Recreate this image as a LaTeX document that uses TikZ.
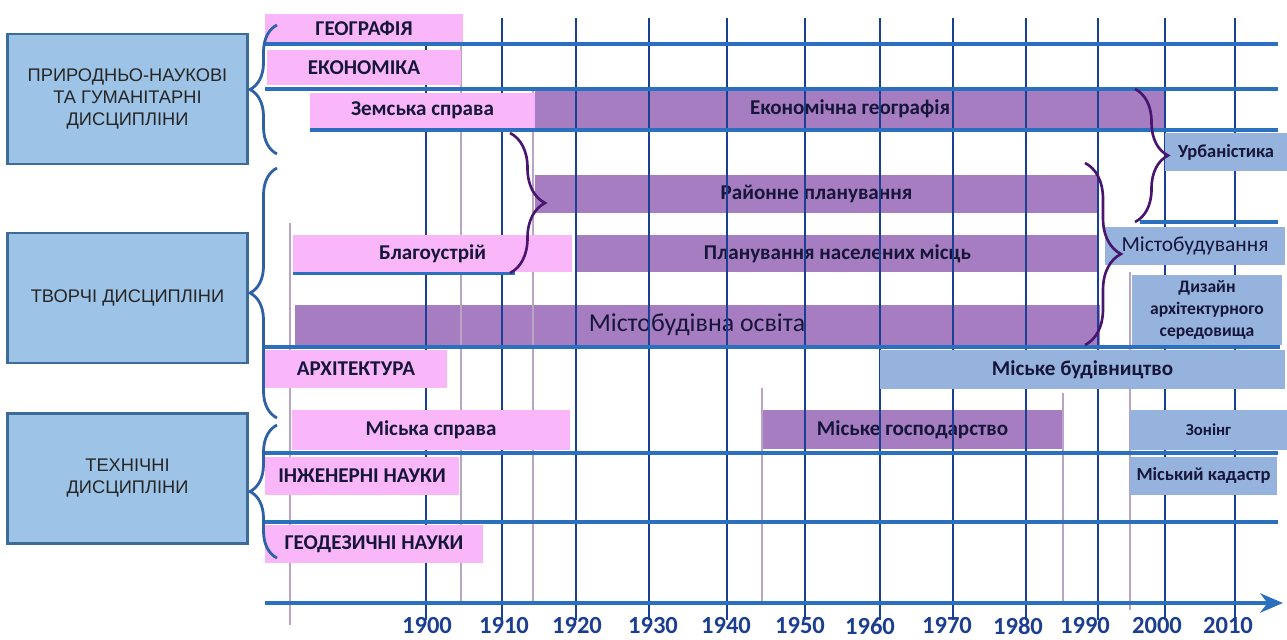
\documentclass[tikz,border=0pt]{standalone}
\usepackage{fontspec}
\setmainfont{Carlito}
\newfontfamily\arialfont{Liberation Sans}
\usepackage{tikz}
\usetikzlibrary{arrows.meta,decorations.pathreplacing}

\definecolor{barpink}{RGB}{249,182,249}
\definecolor{barpurple}{RGB}{166,125,192}
\definecolor{barblue}{RGB}{149,179,220}
\definecolor{catblue}{RGB}{157,195,230}
\definecolor{catedge}{RGB}{62,108,152}
\definecolor{lineblue}{RGB}{42,112,190}
\definecolor{gridnavy}{RGB}{26,64,148}
\definecolor{faint}{RGB}{185,165,195}
\definecolor{bracenavy}{RGB}{46,98,165}
\definecolor{bracepurple}{RGB}{72,22,110}
\definecolor{textdark}{RGB}{22,22,58}
\definecolor{yearblue}{RGB}{28,62,145}

\begin{document}
\begin{tikzpicture}[x=.02cm, y=-.02cm,
     sz/.style 2 args={minimum width=#1*0.02cm, minimum height=#2*0.02cm},
     pinkbox/.style={fill=barpink, inner sep=0pt, text=textdark, font=\bfseries\fontsize{12}{14}\selectfont},
     purplebox/.style={fill=barpurple, inner sep=0pt, text=textdark, font=\bfseries\fontsize{12}{14}\selectfont},
     bluebox/.style={fill=barblue, inner sep=0pt, text=textdark, align=center, font=\bfseries\fontsize{10.5}{12.5}\selectfont},
     catbox/.style={fill=catblue, draw=catedge, line width=1.7pt, inner sep=0pt, align=center, text=black!85, font=\arialfont\fontsize{10.4}{12.5}\selectfont},
     hline/.style={draw=lineblue, line width=2.3pt},
     vline/.style={draw=gridnavy, line width=1.3pt},
     faintline/.style={draw=faint, line width=.9pt},
     year/.style={text=yearblue, inner sep=1pt, font=\bfseries\fontsize{14}{16}\selectfont},
     bluebrace/.style={decorate, decoration={brace, amplitude=#1}, draw=bracenavy, line width=1.6pt},
     purplebrace/.style={decorate, decoration={brace, amplitude=#1}, draw=bracepurple, line width=1.5pt}]
     \useasboundingbox (0,0) rectangle (1287,639);

     % purple bars (under the grid)
     \node[purplebox, sz={630}{38}] (ekgeo) at (850,109) {Економічна географія};
     \node[purplebox, sz={563}{38}] (rayon) at (816.5,194) {Районне планування};
     \node[purplebox, sz={521}{37}] (planuv) at (837.5,253.5) {Планування населених місць};
     \node[purplebox, sz={805}{40}, font=\fontsize{14.7}{16}\selectfont] (osvita) at (697,325) {Містобудівна освіта};
     \node[purplebox, sz={301}{39}] (hosp) at (912.5,429.5) {Міське господарство};

     % thin marks of start / end
     \draw[faintline] (290,223) -- (290,625);
     \draw[faintline] (461,38) -- (461,603);
     \draw[faintline] (533,90) -- (533,603);
     \draw[faintline] (762,388) -- (762,603);
     \draw[faintline] (1063,393) -- (1063,603);
     \draw[faintline] (1130,272) -- (1130,610);

     % decades
     \draw[vline] (426,18) -- (426,620);
     \draw[vline] (502,18) -- (502,620);
     \draw[vline] (576,18) -- (576,620);
     \draw[vline] (649,18) -- (649,620);
     \draw[vline] (727,18) -- (727,620);
     \draw[vline] (805,18) -- (805,620);
     \draw[vline] (880,18) -- (880,620);
     \draw[vline] (953,18) -- (953,620);
     \draw[vline] (1026,18) -- (1026,620);
     \draw[vline] (1098,18) -- (1098,620);
     \draw[vline] (1165,18) -- (1165,620);
     \draw[vline] (1235,18) -- (1235,620);

     % rows
     \draw[hline] (265,44) -- (1278,44);
     \draw[hline] (265,89) -- (1278,89);
     \draw[hline] (310,130) -- (1278,130);
     \draw[hline] (1140,222) -- (1278,222);
     \draw[hline] (293,273) -- (515,273);
     \draw[hline] (265,347) -- (1280,347);
     \draw[hline] (265,453) -- (1278,453);
     \draw[hline] (265,522) -- (1278,522);
     \draw[hline, -{Stealth[length=13pt,width=11pt]}] (265,603) -- (1283,603);

     % pink bars
     \node[pinkbox, sz={198}{28}] (geo) at (364,28) {ГЕОГРАФІЯ};
     \node[pinkbox, sz={194}{35}] (econ) at (364,67.5) {ЕКОНОМІКА};
     \node[pinkbox, sz={225}{35}] (zemska) at (422.5,110.5) {Земська справа};
     \node[pinkbox, sz={279}{37}] (blah) at (432.5,253.5) {Благоустрій};
     \node[pinkbox, sz={182}{38}] (arkh) at (356,369) {АРХІТЕКТУРА};
     \node[pinkbox, sz={278}{40}] (mspr) at (431,430) {Міська справа};
     \node[pinkbox, sz={194}{38}] (inzh) at (362,476) {ІНЖЕНЕРНІ НАУКИ};
     \node[pinkbox, sz={218}{38}] (geod) at (374,544) {ГЕОДЕЗИЧНІ НАУКИ};

     % blue bars
     \node[bluebox, sz={122}{38}] (urb) at (1226,152) {Урбаністика};
     \node[bluebox, sz={180}{38}, font=\fontsize{12.2}{14}\selectfont] (mistob) at (1195,246) {Містобудування};
     \node[bluebox, sz={150}{70}, font=\bfseries\fontsize{10}{12.5}\selectfont] (dyz) at (1207,310) {Дизайн\\архітектурного\\середовища};
     \node[bluebox, sz={405}{39}, font=\bfseries\fontsize{12}{14}\selectfont] (bud) at (1082.5,369.5) {Міське будівництво};
     \node[bluebox, sz={157}{40}, font=\bfseries\fontsize{9.5}{11}\selectfont] (zon) at (1208.5,430) {Зонінг};
     \node[bluebox, sz={147}{38}] (kad) at (1203.5,476) {Міський кадастр};

     % groups
     \node[catbox, sz={240}{130}] (prir) at (127.5,99) {ПРИРОДНЬО-НАУКОВІ\\ТА ГУМАНІТАРНІ\\ДИСЦИПЛІНИ};
     \node[catbox, sz={240}{130}] (tvor) at (127.5,298) {ТВОРЧІ ДИСЦИПЛІНИ};
     \node[catbox, sz={240}{130}] (tekh) at (127.5,478) {ТЕХНІЧНІ\\ДИСЦИПЛІНИ};

     \draw[bluebrace=.54cm] (277,154) -- (277,25);
     \draw[bluebrace=.54cm] (277,418) -- (277,168);
     \draw[bluebrace=.54cm] (277,558) -- (277,425);

     \draw[purplebrace=.7cm] (510,133) -- (510,273);
     \draw[purplebrace=.66cm] (1135,89) -- (1135,222);
     \draw[purplebrace=.72cm] (1085,163) -- (1085,345);

     % years
     \node[year] (y1900) at (427,626) {1900};
     \node[year] (y1910) at (504,626) {1910};
     \node[year] (y1920) at (577,626) {1920};
     \node[year] (y1930) at (653,626) {1930};
     \node[year] (y1940) at (726,626) {1940};
     \node[year] (y1950) at (800,626) {1950};
     \node[year] (y1960) at (870,626) {1960};
     \node[year] (y1970) at (947,626) {1970};
     \node[year] (y1980) at (1018,626) {1980};
     \node[year] (y1990) at (1085,626) {1990};
     \node[year] (y2000) at (1157,626) {2000};
     \node[year] (y2010) at (1228,626) {2010};
     \end{tikzpicture}
\end{document}
